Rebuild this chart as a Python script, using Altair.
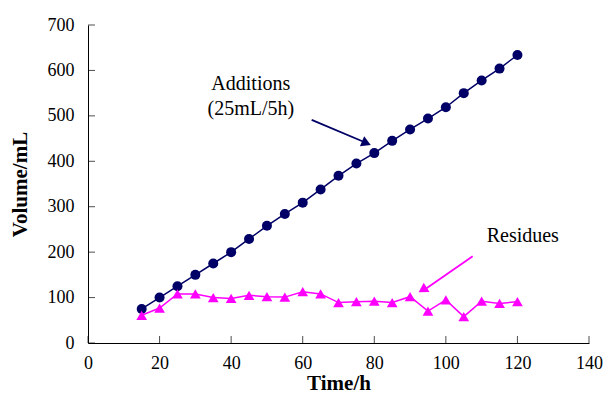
import altair as alt
import pandas as pd

time_h = [15, 20, 25, 30, 35, 40, 45, 50, 55, 60, 65, 70, 75, 80, 85, 90, 95, 100, 105, 110, 115, 120]
additions = [75, 100, 125, 150, 175, 200, 229, 258, 284, 309, 338, 368, 395, 418, 445, 470, 494, 519, 550, 578, 604, 634]
residues = [61, 77, 108, 108, 100, 98, 105, 102, 101, 113, 108, 89, 91, 92, 89, 102, 70, 95, 58, 92, 87, 91]

x_ticks = [0, 20, 40, 60, 80, 100, 120, 140]
y_ticks = [0, 100, 200, 300, 400, 500, 600, 700]

NAVY = "#000066"
MAGENTA = "#ff00ff"
FONT = "Liberation Serif"
W, H = 501, 318

df = pd.DataFrame({"t": time_h, "add": additions, "res": residues})

xs = alt.Scale(domain=[0, 140], nice=False, zero=True)
ys = alt.Scale(domain=[0, 700], nice=False)

xaxis = alt.Axis(values=x_ticks, title="Time/h", grid=False, ticks=False, labelPadding=11,
                 labelFont=FONT, labelFontSize=18, labelColor="#000000",
                 titleFont=FONT, titleFontSize=21, titleFontWeight="bold", titlePadding=0,
                 domainColor="#000000", labelFlush=False)
yaxis = alt.Axis(values=y_ticks, title="Volume/mL", grid=False, ticks=False, labelPadding=14,
                 labelFont=FONT, labelFontSize=18, labelColor="#000000",
                 titleFont=FONT, titleFontSize=21, titleFontWeight="bold", titlePadding=17,
                 domainColor="#000000", labelFlush=False)

base = alt.Chart(df)

add_line = base.mark_line(color=NAVY, strokeWidth=1.5).encode(
    x=alt.X("t:Q", scale=xs, axis=xaxis),
    y=alt.Y("add:Q", scale=ys, axis=yaxis),
)
add_pts = base.mark_point(shape="circle", filled=True, color=NAVY, size=100, opacity=1).encode(
    x=alt.X("t:Q", scale=xs), y=alt.Y("add:Q", scale=ys))

res_line = base.mark_line(color=MAGENTA, strokeWidth=1.5).encode(
    x=alt.X("t:Q", scale=xs), y=alt.Y("res:Q", scale=ys))
res_pts = base.mark_point(shape="triangle-up", filled=True, color=MAGENTA, size=115, opacity=1).encode(
    x=alt.X("t:Q", scale=xs), y=alt.Y("res:Q", scale=ys))

# inward ticks
xt = alt.Chart(pd.DataFrame({"v": x_ticks})).mark_tick(
    orient="vertical", color="#000000", size=7, thickness=1).encode(
    x=alt.X("v:Q", scale=xs), y=alt.value(H - 3.5))
yt = alt.Chart(pd.DataFrame({"v": y_ticks})).mark_tick(
    orient="horizontal", color="#000000", size=7, thickness=1).encode(
    y=alt.Y("v:Q", scale=ys), x=alt.value(3.5))

# annotations
ann_text = pd.DataFrame({
    "x": [45.5, 45.5, 121.5],
    "y": [571, 514, 236],
    "label": ["Additions", "(25mL/5h)", "Residues"],
})
texts = alt.Chart(ann_text).mark_text(font=FONT, fontSize=20, color="#000000", align="center", baseline="middle").encode(
    x=alt.X("x:Q", scale=xs), y=alt.Y("y:Q", scale=ys), text="label:N")

arrows = pd.DataFrame({
    "x": [62.5, 107.5], "y": [491, 191],
    "x2": [77.0, 94.5], "y2": [443, 120],
    "c": [NAVY, MAGENTA],
})
arrow_lines = alt.Chart(arrows).mark_rule(strokeWidth=1.8).encode(
    x=alt.X("x:Q", scale=xs), y=alt.Y("y:Q", scale=ys),
    x2="x2:Q", y2="y2:Q", color=alt.Color("c:N", scale=None))

heads = pd.DataFrame({
    "x": [77.8, 93.5], "y": [440, 117], "ang": [113, 238], "c": [NAVY, MAGENTA],
})
arrow_heads = alt.Chart(heads).mark_point(shape="triangle-up", filled=True, size=120, opacity=1).encode(
    x=alt.X("x:Q", scale=xs), y=alt.Y("y:Q", scale=ys),
    angle=alt.Angle("ang:Q", scale=None), color=alt.Color("c:N", scale=None))

chart = alt.layer(add_line, res_line, add_pts, res_pts, xt, yt, texts, arrow_lines, arrow_heads).properties(
    width=W, height=H,
    autosize=alt.AutoSizeParams(type="none"),
    padding={"left": 80, "top": 17, "right": 14, "bottom": 58},
    background="#ffffff",
).configure_view(stroke=None)

chart.save("out.html", embed_options={"renderer": "svg", "actions": False})
